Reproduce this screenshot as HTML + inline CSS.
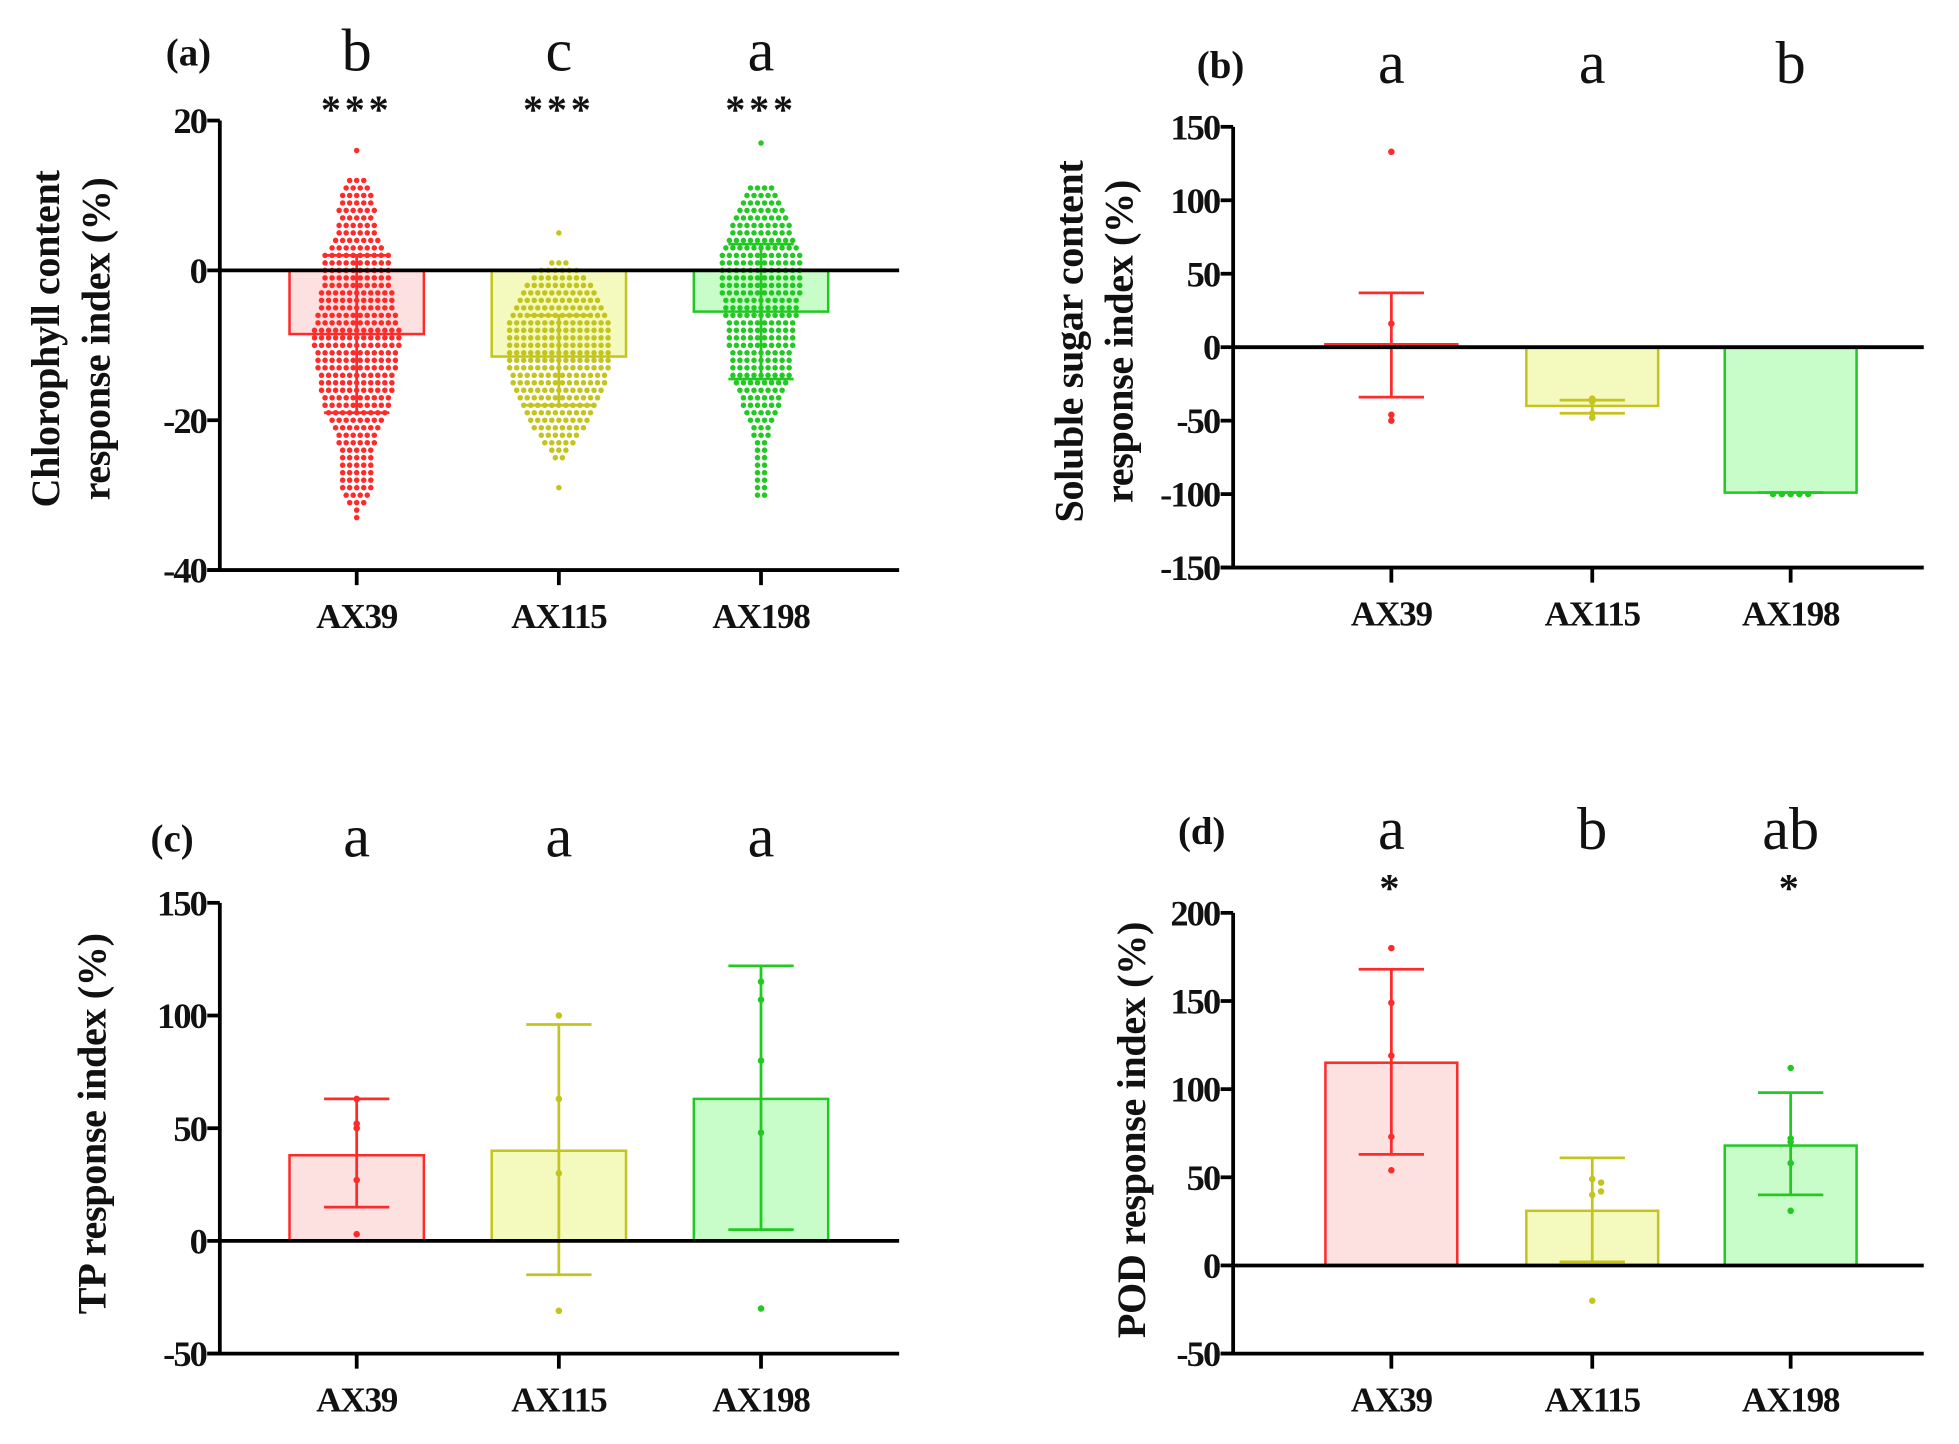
<!DOCTYPE html>
<html><head><meta charset="utf-8"><style>
html,body{margin:0;padding:0;background:#fff;}
svg{display:block;}
text{font-family:"Liberation Serif",serif;fill:#111;}
.tick{font-weight:bold;font-size:29px;letter-spacing:-1.5px;}
.xl{font-weight:bold;font-size:28px;letter-spacing:-1px;}
.yt{font-weight:bold;font-size:32px;letter-spacing:-0.3px;}
.let{font-size:48px;}
.pl{font-weight:bold;font-size:31px;}
.star{font-size:32px;font-weight:bold;}
</style></head><body>
<svg id="fig" width="1959" height="1444" viewBox="0 0 1560 1150" xmlns="http://www.w3.org/2000/svg"></svg>
<script>
// ---- shared ----
const categories = ["AX39","AX115","AX198"];
const lineColors = ["#ff2a2a","#c4c41e","#22c922"];
const fillColors = ["#fde0e0","#f4f9bd","#c8fcc8"];

// ---- panel (a) chlorophyll ----
const aMeans = [-8.5, -11.5, -5.5];
const aErrLow = [-19, -18, -14.5];
const aErrHigh = [2, -6, 3.5];
const aLetters = ["b","c","a"];
const aStars = ["***","***","***"];
const aTicks = [20, 0, -20, -40];
// swarm histograms: value -> number of dots at that value
const aRedBins = [[16,1],[12,3],[11,4],[10,5],[9,5],[8,6],[7,5],[6,6],[5,6],[4,7],[3,8],[2,10],[1,10],[0,10],[-1,10],[-2,10],[-3,11],[-4,11],[-5,11],[-6,12],[-7,12],[-8,13],[-9,13],[-10,13],[-11,12],[-12,12],[-13,12],[-14,11],[-15,11],[-16,11],[-17,10],[-18,10],[-19,9],[-20,8],[-21,7],[-22,6],[-23,6],[-24,5],[-25,5],[-26,5],[-27,5],[-28,5],[-29,5],[-30,4],[-31,3],[-32,1],[-33,1]];
const aYellowBins = [[5,1],[1,3],[0,6],[-1,8],[-2,10],[-3,11],[-4,12],[-5,13],[-6,14],[-7,15],[-8,15],[-9,15],[-10,15],[-11,15],[-12,15],[-13,15],[-14,14],[-15,14],[-16,13],[-17,12],[-18,11],[-19,10],[-20,9],[-21,8],[-22,6],[-23,5],[-24,3],[-25,2],[-29,1]];
const aGreenBins = [[17,1],[11,4],[10,5],[9,6],[8,7],[7,8],[6,9],[5,9],[4,10],[3,11],[2,12],[1,12],[0,12],[-1,12],[-2,12],[-3,12],[-4,11],[-5,11],[-6,11],[-7,10],[-8,10],[-9,10],[-10,10],[-11,9],[-12,9],[-13,9],[-14,9],[-15,8],[-16,7],[-17,6],[-18,6],[-19,5],[-20,4],[-21,3],[-22,3],[-23,2],[-24,2],[-25,2],[-26,2],[-27,2],[-28,2],[-29,2],[-30,2]];

// ---- panel (b) soluble sugar ----
const bMeans = [2, -40, -99];
const bErrLow = [-34, -45, -99];
const bErrHigh = [37, -36, -99];
const bPoints = [[133,16,-46,-50],[-35,-37,-45,-48],[-100,-100,-100,-100,-100]];
const bLetters = ["a","a","b"];
const bTicks = [150,100,50,0,-50,-100,-150];

// ---- panel (c) TP ----
const cMeans = [38, 40, 63];
const cErrLow = [15, -15, 5];
const cErrHigh = [63, 96, 122];
const cPoints = [[63,52,50,27,3],[100,63,30,-31],[115,107,80,48,-30]];
const cLetters = ["a","a","a"];
const cTicks = [150,100,50,0,-50];

// ---- panel (d) POD ----
const dMeans = [115, 31, 68];
const dErrLow = [63, 2, 40];
const dErrHigh = [168, 61, 98];
const dPoints = [[180,149,119,73,54],[49,47,40,42,-20],[112,72,70,58,31]];
const dLetters = ["a","b","ab"];
const dStars = ["*","","*"];
const dTicks = [200,150,100,50,0,-50];

const NS = "http://www.w3.org/2000/svg";
const svg = document.getElementById("fig");
function mk(tag, attrs, parent, txt){
  const e = document.createElementNS(NS, tag);
  for (const k in attrs) e.setAttribute(k, attrs[k]);
  if (txt !== undefined) e.textContent = txt;
  (parent||svg).appendChild(e);
  return e;
}

function panel(cfg){
  const g = mk("g", {});
  
  
  const yScale = v => cfg.yTop + (cfg.vMax - v) / (cfg.vMax - cfg.vMin) * (cfg.yBot - cfg.yTop);
  const xScale = i => cfg.centers[i];
  const y0 = yScale(0);
  cfg.means.forEach((m, i) => {
    const x = xScale(i) - cfg.bw/2;
    const r = mk("rect", {x:x, y:Math.min(y0,yScale(m)), width:cfg.bw, height:Math.max(1,Math.abs(yScale(m)-y0)), fill:fillColors[i], stroke:lineColors[i], "stroke-width":2}, g);
    
    
  });
  if (cfg.bins) {
    cfg.bins.forEach((bins, i) => {
      const sg = mk("g", {fill:lineColors[i]}, g);
      
      
      bins.forEach(([v, n]) => {
        for (let k = 0; k < n; k++) {
          const off = (k - (n-1)/2) * 5.6;
          mk("circle", {cx:xScale(i)+off, cy:yScale(v), r:2.2}, sg);
        }
      });
    });
  }
  if (cfg.points) {
    cfg.points.forEach((pts, i) => {
      const sg = mk("g", {fill:lineColors[i]}, g);
      
      
      const seen = {};
      pts.forEach(v => {
        const key = Math.round(yScale(v)/5);
        seen[key] = (seen[key]||0) + 1;
        const n = seen[key]-1;
        const off = n===0 ? 0 : (n%2 ? 1 : -1) * Math.ceil(n/2) * 7;
        mk("circle", {cx:xScale(i)+off, cy:yScale(v), r:2.6}, sg);
      });
    });
  }
  cfg.means.forEach((m, i) => {
    const eg = mk("g", {stroke:lineColors[i], "stroke-width":2.2, fill:"none"}, g);
    
    
    const x = xScale(i), hw = cfg.cap;
    const yl = yScale(cfg.lo[i]), yh = yScale(cfg.hi[i]);
    mk("line", {x1:x, x2:x, y1:yl, y2:yh}, eg);
    mk("line", {x1:x-hw, x2:x+hw, y1:yl, y2:yl}, eg);
    mk("line", {x1:x-hw, x2:x+hw, y1:yh, y2:yh}, eg);
  });
  const ax = mk("g", {stroke:"#000", "stroke-width":3}, g);
  
  
  mk("line", {x1:cfg.axX, x2:cfg.axX, y1:cfg.yTop, y2:cfg.yBot}, ax);
  mk("line", {x1:cfg.axX-10, x2:cfg.xEnd, y1:cfg.yBot, y2:cfg.yBot}, ax);
  mk("line", {x1:cfg.axX, x2:cfg.xEnd, y1:y0, y2:y0}, ax);
  cfg.ticks.forEach(t => {
    mk("line", {x1:cfg.axX-10, x2:cfg.axX, y1:yScale(t), y2:yScale(t)}, ax);
    const tx = mk("text", {x:cfg.axX-11, y:yScale(t)+10, "text-anchor":"end", class:"tick"}, g, String(t));
    
    
  });
  categories.forEach((c, i) => {
    mk("line", {x1:xScale(i), x2:xScale(i), y1:cfg.yBot, y2:cfg.yBot+12}, ax);
    const tx = mk("text", {x:xScale(i), y:cfg.yBot+46, "text-anchor":"middle", class:"xl"}, g, c);
    
    
    const lt = mk("text", {x:xScale(i), y:cfg.letY, "text-anchor":"middle", class:"let"}, g, cfg.letters[i]);
    
    
    if (cfg.stars && cfg.stars[i]) {
      const st = mk("text", {x:xScale(i), y:cfg.starY, "text-anchor":"middle", class:"star", "letter-spacing":"3"}, g, cfg.stars[i]);
      
      
    }
  });
  const pl = mk("text", {x:cfg.plX, y:cfg.letY-4, "text-anchor":"middle", class:"pl"}, g, cfg.label);
  
  
  cfg.ytitle.forEach((line, k) => {
    const x = cfg.ytX + k*40, y = cfg.ytY;
    const t = mk("text", {x:x, y:y, "text-anchor":"middle", class:"yt", transform:`rotate(-90 ${x} ${y})`}, g, line);
    
    
  });
}

panel({name:"panel-a-chlorophyll", axX:175, xEnd:716, yTop:96, yBot:454, vMax:20, vMin:-40, centers:[284,445,606], bw:107, cap:26,
  means:aMeans, lo:aErrLow, hi:aErrHigh, bins:[aRedBins,aYellowBins,aGreenBins], ticks:aTicks, letters:aLetters, letY:56, stars:aStars, starY:98,
  label:"(a)", plX:150, ytitle:["Chlorophyll content","response index (%)"], ytX:47, ytY:270});
panel({name:"panel-b-soluble-sugar", axX:982, xEnd:1532, yTop:101, yBot:452, vMax:150, vMin:-150, centers:[1108,1268,1426], bw:105, cap:26,
  means:bMeans, lo:bErrLow, hi:bErrHigh, points:bPoints, ticks:bTicks, letters:bLetters, letY:66,
  label:"(b)", plX:972, ytitle:["Soluble sugar content","response index (%)"], ytX:862, ytY:272});
panel({name:"panel-c-tp", axX:175, xEnd:716, yTop:719, yBot:1078, vMax:150, vMin:-50, centers:[284,445,606], bw:107, cap:26,
  means:cMeans, lo:cErrLow, hi:cErrHigh, points:cPoints, ticks:cTicks, letters:cLetters, letY:682,
  label:"(c)", plX:137, ytitle:["TP  response index (%)"], ytX:84, ytY:895});
panel({name:"panel-d-pod", axX:982, xEnd:1532, yTop:727, yBot:1078, vMax:200, vMin:-50, centers:[1108,1268,1426], bw:105, cap:26,
  means:dMeans, lo:dErrLow, hi:dErrHigh, points:dPoints, ticks:dTicks, letters:dLetters, letY:676, stars:dStars, starY:718,
  label:"(d)", plX:957, ytitle:["POD response index (%)"], ytX:912, ytY:900});
</script>
</body></html>
